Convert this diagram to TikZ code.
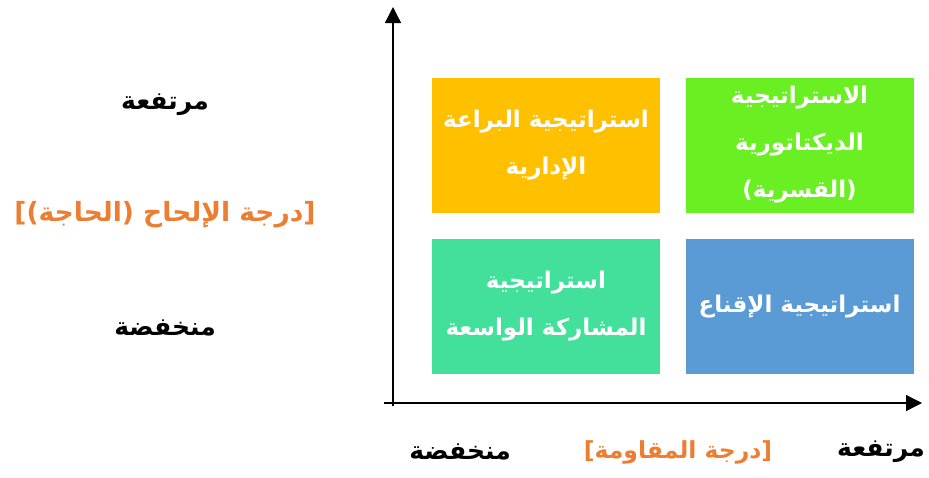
\documentclass[tikz,border=0pt]{standalone}
\usepackage{fontspec}
\TeXXeTstate=1
\newfontfamily\arabicfont[Script=Arabic]{DejaVu Sans}
\usetikzlibrary{arrows.meta}
\definecolor{boxorange}{HTML}{FFC000}
\definecolor{boxgreen}{HTML}{6AEF23}
\definecolor{boxteal}{HTML}{43E09C}
\definecolor{boxblue}{HTML}{5B9BD5}
\definecolor{labelorange}{HTML}{ED7D31}
\tikzset{
  axis/.style={line width=1.3pt, -{Triangle[length=16pt,width=16pt]}},
  quad/.style={minimum width=228pt, minimum height=135pt, inner sep=0pt, align=center,
    text=white, font=\arabicfont\bfseries\fontsize{23}{47}\selectfont},
  level/.style={font=\arabicfont\bfseries\fontsize{25}{30}\selectfont},
  title/.style={text=labelorange, font=\arabicfont\bfseries\fontsize{#1}{30}\selectfont}
}
\begin{document}
\begin{tikzpicture}[x=1pt,y=-1pt]
\useasboundingbox (0,0) rectangle (929,477);
		\coordinate (foot) at (393,406);
		\coordinate (top) at (393,7);
		\coordinate (start) at (384,403);
		\coordinate (end) at (922,403);

		\draw [axis] (foot) -- (top);
		\draw [axis] (start) -- (end);

		\node [quad, fill=boxorange] (skill) at (546,145) {\beginR استراتيجية البراعة\endR\\\beginR الإدارية\endR};
\node [quad, fill=boxgreen] (force) at (799.5,145) {\beginR الاستراتيجية\endR\\\beginR الديكتاتورية\endR\\\beginR (القسرية)\endR};
\node [quad, fill=boxteal] (share) at (546,306.5) {\beginR استراتيجية\endR\\\beginR المشاركة الواسعة\endR};
\node [quad, fill=boxblue] (convince) at (799.5,306.5) {\beginR استراتيجية الإقناع\endR};

		\node [level] (yhigh) at (165,105) {\beginR مرتفعة\endR};
\node [title=26.5] (ytitle) at (165,215) {\beginR [درجة الإلحاح (الحاجة)]\endR};
\node [level] (ylow) at (165,328) {\beginR منخفضة\endR};
\node [level] (xlow) at (460,452) {\beginR منخفضة\endR};
\node [title=23.5] (xtitle) at (678,452) {\beginR [درجة المقاومة]\endR};
\node [level] (xhigh) at (881,452) {\beginR مرتفعة\endR};
		\end{tikzpicture}
\end{document}
